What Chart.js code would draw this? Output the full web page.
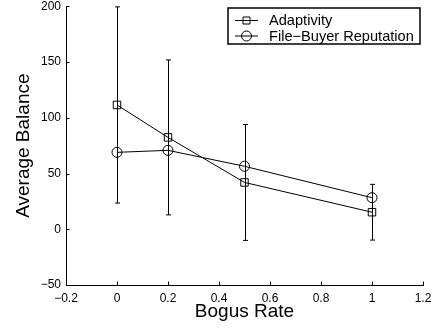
<!DOCTYPE html>
<html lang="en">
<head>
    <meta charset="UTF-8">
    <title>Average Balance vs Bogus Rate</title>
    <script src="https://cdn.jsdelivr.net/npm/chart.js"></script>
    <style>
        body { margin: 0; background: #fff; }
        #balanceChart { display: block; }
    </style>
</head>
<body>
    <canvas id="balanceChart" width="445" height="328"></canvas>
    <script>
        // Bogus rates on the x axis
        const bogusRates = [0, 0.2, 0.5, 1];
        // Adaptivity: mean balance and error bar half-length
        const adaptivity = [111.5, 82.4, 42, 15.3];
        const adaptivityErr = [88, 69.5, 52, 25];
        // File-Buyer Reputation: mean balance
        const fileBuyer = [69, 70.8, 56.5, 28.3];

        const xTicks = [-0.2, 0, 0.2, 0.4, 0.6, 0.8, 1, 1.2];
        const yTicks = [-50, 0, 50, 100, 150, 200];
        const seriesNames = ['Adaptivity', 'File\u2212Buyer Reputation'];

        Chart.defaults.font.family = '"Liberation Sans", Arial, sans-serif';
        Chart.defaults.color = '#000';

        const fmt = v => String(Number(v.toFixed(1))).replace('-', '\u2212');

        // vertical error bars with small caps
        const errorBars = {
            id: 'errorBars',
            afterDatasetsDraw(chart) {
                const ctx = chart.ctx;
                const yScale = chart.scales.y;
                chart.data.datasets.forEach((ds, i) => {
                    if (!ds.errors) return;
                    const meta = chart.getDatasetMeta(i);
                    ctx.save();
                    ctx.strokeStyle = '#000';
                    ctx.lineWidth = 1;
                    meta.data.forEach((pt, j) => {
                        const x = Math.round(pt.x) + 0.5;
                        const top = yScale.getPixelForValue(ds.data[j].y + ds.errors[j]);
                        const bot = yScale.getPixelForValue(ds.data[j].y - ds.errors[j]);
                        ctx.beginPath();
                        ctx.moveTo(x, top); ctx.lineTo(x, bot);
                        ctx.moveTo(x - 2.5, top); ctx.lineTo(x + 2.5, top);
                        ctx.moveTo(x - 2.5, bot); ctx.lineTo(x + 2.5, bot);
                        ctx.stroke();
                    });
                    ctx.restore();
                });
            }
        };

        // inward tick marks on the left and bottom axes
        const innerTicks = {
            id: 'innerTicks',
            afterDraw(chart) {
                const ctx = chart.ctx;
                const {x, y} = chart.scales;
                const area = chart.chartArea;
                ctx.save();
                ctx.strokeStyle = '#000';
                ctx.lineWidth = 1;
                ctx.beginPath();
                x.ticks.forEach(t => {
                    const px = Math.round(x.getPixelForValue(t.value)) + 0.5;
                    ctx.moveTo(px, area.bottom); ctx.lineTo(px, area.bottom - 3.5);
                });
                y.ticks.forEach(t => {
                    const py = Math.round(y.getPixelForValue(t.value)) + 0.5;
                    ctx.moveTo(area.left, py); ctx.lineTo(area.left + 3.5, py);
                });
                ctx.stroke();
                ctx.restore();
            }
        };

        // boxed legend with line + marker samples
        const boxLegend = {
            id: 'boxLegend',
            afterDraw(chart) {
                const ctx = chart.ctx;
                ctx.save();
                ctx.fillStyle = '#fff';
                ctx.fillRect(228, 8, 192, 36);
                ctx.strokeStyle = '#000';
                ctx.lineWidth = 1.5;
                ctx.strokeRect(228, 8, 192, 36);
                ctx.lineWidth = 1;
                ctx.font = '14.6px "Liberation Sans", Arial, sans-serif';
                ctx.textBaseline = 'middle';
                ctx.fillStyle = '#000';
                const rows = [20, 35.5];
                rows.forEach((ry, i) => {
                    ctx.beginPath();
                    ctx.moveTo(235, ry + 0.5); ctx.lineTo(258, ry + 0.5);
                    ctx.stroke();
                    ctx.beginPath();
                    if (i === 0) {
                        ctx.rect(243, ry - 3, 7, 7);
                    } else {
                        ctx.arc(246.5, ry + 0.5, 5, 0, Math.PI * 2);
                    }
                    ctx.stroke();
                    ctx.fillText(seriesNames[i], 269, ry + 1);
                });
                ctx.restore();
            }
        };

        const toPoints = arr => arr.map((v, i) => ({ x: bogusRates[i], y: v }));

        new Chart(document.getElementById('balanceChart'), {
            type: 'line',
            data: {
                datasets: [{
                    label: seriesNames[0],
                    data: toPoints(adaptivity),
                    errors: adaptivityErr,
                    borderColor: '#000',
                    borderWidth: 1,
                    pointStyle: 'rect',
                    pointRadius: 5.3,
                    pointBorderWidth: 1,
                    pointBorderColor: '#000',
                    pointBackgroundColor: 'rgba(0,0,0,0)',
                    tension: 0
                }, {
                    label: seriesNames[1],
                    data: toPoints(fileBuyer),
                    borderColor: '#000',
                    borderWidth: 1,
                    pointStyle: 'circle',
                    pointRadius: 5,
                    pointBorderWidth: 1,
                    pointBorderColor: '#000',
                    pointBackgroundColor: 'rgba(0,0,0,0)',
                    tension: 0
                }]
            },
            options: {
                responsive: false,
                animation: false,
                layout: { padding: { top: 4.7, right: 22, bottom: 0, left: 0 } },
                plugins: { legend: { display: false }, tooltip: { enabled: false } },
                scales: {
                    x: {
                        type: 'linear',
                        min: -0.2, max: 1.2,
                        afterBuildTicks: s => { s.ticks = xTicks.map(v => ({ value: v })); },
                        afterFit: s => { s.height = 43; s.paddingLeft = 0; s.paddingRight = 0; },
                        grid: { display: false, drawTicks: false },
                        border: { display: true, color: '#000', width: 1 },
                        ticks: { font: { size: 12 }, padding: 6, maxRotation: 0, autoSkip: false, callback: v => fmt(v) },
                        title: { display: true, text: 'Bogus Rate', font: { size: 19 }, padding: { top: 0, bottom: 4.6 } }
                    },
                    y: {
                        min: -50, max: 200,
                        afterBuildTicks: s => { s.ticks = yTicks.map(v => ({ value: v })); },
                        afterFit: s => { s.width = 66; s.paddingTop = 0; s.paddingBottom = 0; },
                        grid: { display: false, drawTicks: false },
                        border: { display: true, color: '#000', width: 1 },
                        ticks: { font: { size: 12 }, padding: 5, autoSkip: false, callback: v => fmt(v) },
                        title: { display: true, text: 'Average Balance', font: { size: 19 }, padding: { top: 12.6, bottom: 0 } }
                    }
                }
            },
            plugins: [errorBars, innerTicks, boxLegend]
        });
    </script>
</body>
</html>
